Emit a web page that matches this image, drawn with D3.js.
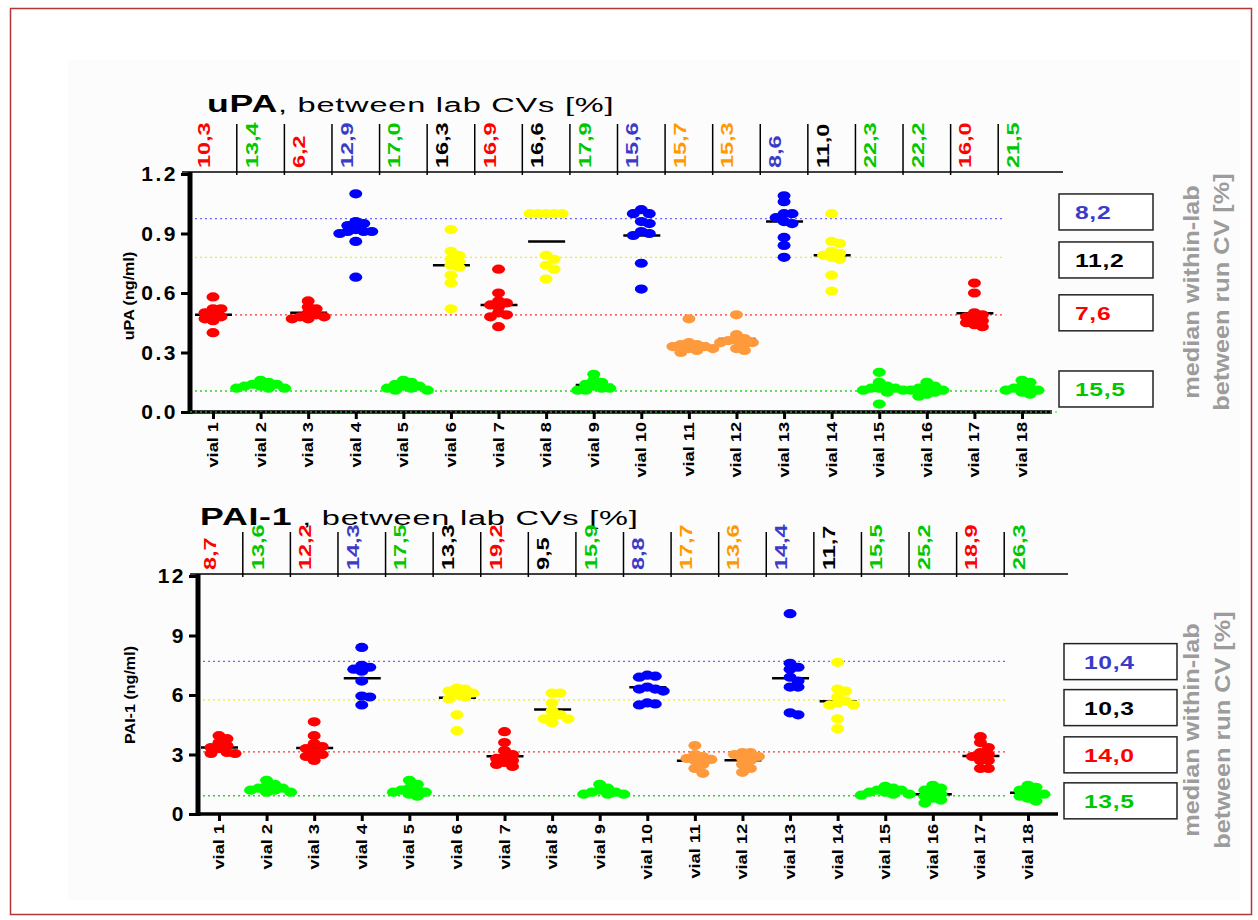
<!DOCTYPE html>
<html><head><meta charset="utf-8">
<script src="https://cdn.jsdelivr.net/npm/d3@7"></script>
<style>body{margin:0;background:#fff} text{font-family:"Liberation Sans",Arial,sans-serif}</style>
</head><body><svg id="c" width="1258" height="920"></svg>
<script>
// ---------------- data ----------------
const vials = ["vial 1","vial 2","vial 3","vial 4","vial 5","vial 6","vial 7","vial 8","vial 9","vial 10","vial 11","vial 12","vial 13","vial 14","vial 15","vial 16","vial 17","vial 18"];
const vialGroups = ["red","green","red","blue","green","yellow","red","yellow","green","blue","orange","orange","blue","yellow","green","green","red","green"];

const upaBetweenCV = ["10,3","13,4","6,2","12,9","17,0","16,3","16,9","16,6","17,9","15,6","15,7","15,3","8,6","11,0","22,3","22,2","16,0","21,5"];
const paiBetweenCV = ["8,7","13,6","12,2","14,3","17,5","13,3","19,2","9,5","15,9","8,8","17,7","13,6","14,4","11,7","15,5","25,2","18,9","26,3"];

const upaValues = [
  [0.58,0.52,0.52,0.50,0.49,0.48,0.47,0.46,0.40],
  [0.16,0.15,0.14,0.14,0.13,0.13,0.12,0.12,0.12],
  [0.56,0.53,0.52,0.50,0.49,0.48,0.48,0.47,0.47],
  [1.10,0.96,0.95,0.94,0.92,0.91,0.91,0.91,0.90,0.86,0.68],
  [0.16,0.15,0.14,0.13,0.13,0.12,0.12,0.11,0.11],
  [0.92,0.81,0.79,0.77,0.76,0.74,0.73,0.69,0.65,0.52],
  [0.72,0.60,0.56,0.55,0.54,0.53,0.50,0.49,0.48,0.43],
  [1.00,1.00,1.00,1.00,1.00,0.79,0.77,0.74,0.72,0.67],
  [0.19,0.16,0.15,0.14,0.13,0.12,0.12,0.11,0.11],
  [1.02,1.00,1.00,0.96,0.95,0.91,0.90,0.89,0.75,0.62],
  [0.47,0.35,0.34,0.34,0.33,0.33,0.32,0.32,0.31,0.30],
  [0.49,0.39,0.37,0.36,0.36,0.35,0.35,0.34,0.32,0.31],
  [1.09,1.06,1.00,1.00,0.98,0.96,0.95,0.88,0.84,0.78],
  [1.00,0.86,0.85,0.81,0.80,0.79,0.78,0.77,0.69,0.61],
  [0.20,0.15,0.13,0.12,0.12,0.12,0.11,0.11,0.10,0.04],
  [0.15,0.13,0.12,0.12,0.11,0.11,0.10,0.09,0.08],
  [0.65,0.60,0.50,0.49,0.48,0.47,0.46,0.45,0.44,0.43],
  [0.16,0.15,0.13,0.12,0.12,0.11,0.11,0.10,0.09]
];
const upaCenters = [0.49,0.14,0.50,0.91,0.13,0.74,0.54,0.86,0.136,0.89,0.343,0.368,0.96,0.79,0.12,0.111,0.498,0.111];

const paiValues = [
  [3.95,3.80,3.60,3.45,3.35,3.30,3.10,3.05,3.05],
  [1.70,1.50,1.40,1.30,1.30,1.20,1.20,1.10,1.10],
  [4.65,3.95,3.55,3.40,3.30,3.10,3.00,2.90,2.70],
  [8.40,7.50,7.40,7.30,7.20,6.70,5.95,5.90,5.50],
  [1.70,1.50,1.30,1.20,1.20,1.10,1.10,1.00,0.90],
  [6.35,6.30,6.20,6.10,6.00,5.90,5.80,5.00,4.20],
  [4.15,3.60,3.20,3.00,2.90,2.80,2.70,2.60,2.50,2.40],
  [6.10,6.10,5.60,5.20,5.00,4.90,4.80,4.80,4.60],
  [1.50,1.30,1.20,1.10,1.10,1.00,1.00,1.00],
  [7.00,6.95,6.90,6.40,6.30,6.30,6.20,5.60,5.55,5.50],
  [3.45,3.00,2.90,2.80,2.75,2.70,2.50,2.30,2.05],
  [3.10,3.10,3.00,2.90,2.80,2.70,2.50,2.30,2.10],
  [10.1,7.60,7.40,7.30,6.90,6.70,6.40,6.40,5.10,5.00],
  [7.65,6.30,6.20,5.90,5.70,5.60,5.50,5.50,4.80,4.30],
  [1.40,1.30,1.20,1.20,1.10,1.10,1.00,1.00,0.95],
  [1.45,1.30,1.20,1.10,1.00,0.90,0.80,0.70,0.55],
  [3.90,3.60,3.35,3.10,3.00,2.90,2.70,2.70,2.30,2.30],
  [1.45,1.35,1.20,1.10,1.00,1.00,0.90,0.80,0.65]
];
const paiCenters = [3.35,1.29,3.33,6.84,1.20,5.86,2.91,5.27,1.10,6.39,2.68,2.71,6.84,5.69,1.17,0.99,2.93,1.07];

const refGroups = ["blue","yellow","red","green"];
const upaRefValues = [0.975,0.78,0.49,0.106];
const upaWithinCV = ["8,2","11,2","7,6","15,5"];
const paiRefValues = [7.7,5.75,3.13,0.92];
const paiWithinCV = ["10,4","10,3","14,0","13,5"];

const upaTicks = [0,0.3,0.6,0.9,1.2];
const paiTicks = [0,3,6,9,12];

// ---------------- styling ----------------
const dotColor = {red:"#ff0000",green:"#00ff00",blue:"#0000ff",yellow:"#ffff00",orange:"#ff9a3c"};
const textColor = {red:"#ff0000",green:"#00c800",blue:"#3b3bc8",yellow:"#000000",orange:"#ff9900"};
const lineColor = {red:"#ff3030",green:"#30d030",blue:"#6a6aff",yellow:"#f0f000"};

const svg = d3.select("#c");
svg.append("rect").attr("x",10.5).attr("y",8.5).attr("width",1241).attr("height",906)
  .attr("fill","#fff").attr("stroke","#b03838").attr("stroke-width",1.5);
svg.append("rect").attr("x",68).attr("y",60).attr("width",1172).attr("height",840).attr("fill","#fcfcfc");

function panel(cfg){
  const g = svg.append("g");
  const x = d3.scalePoint().domain(vials).range(cfg.xRange);
  const y = d3.scaleLinear().domain(cfg.yDomain).range(cfg.yRange);
  const step = x.step();

  // title
  const t = g.append("text").attr("transform",`translate(${cfg.titleX},${cfg.titleY}) scale(1.55,1)`)
    .attr("font-size",21).attr("letter-spacing",0.5);
  t.append("tspan").attr("font-weight","bold").attr("font-size",23).text(cfg.title);
  t.append("tspan").text(cfg.titleRest);

  // header line and separators
  const hy = y(cfg.yDomain[1]) - 2;
  g.append("line").attr("x1",cfg.axisX-8).attr("x2",cfg.headerEnd).attr("y1",hy).attr("y2",hy)
    .attr("stroke","#000").attr("stroke-width",1.5);
  g.selectAll(".sep").data(vials.slice(1)).join("line")
    .attr("x1",d=>x(d)-step/2).attr("x2",d=>x(d)-step/2)
    .attr("y1",hy-cfg.headerH).attr("y2",hy+3).attr("stroke","#000").attr("stroke-width",1.5);
  g.selectAll(".cv").data(cfg.cv).join("text")
    .attr("transform",(d,i)=>`translate(${x(vials[i])-3},${hy-4}) rotate(-90) scale(1.38,1)`)
    .attr("font-size",17).attr("font-weight","bold")
    .attr("fill",(d,i)=>textColor[vialGroups[i]]).text(d=>d);

  // reference dotted lines
  g.selectAll(".ref").data(cfg.refValues).join("line")
    .attr("x1",cfg.axisX).attr("x2",cfg.refEnd)
    .attr("y1",d=>y(d)).attr("y2",d=>y(d))
    .attr("stroke",(d,i)=>lineColor[refGroups[i]]).attr("stroke-width",1.3)
    .attr("stroke-dasharray","2,3");

  // center bars
  g.selectAll(".bar").data(cfg.centers).join("line")
    .attr("x1",(d,i)=>x(vials[i])-18).attr("x2",(d,i)=>x(vials[i])+19)
    .attr("y1",d=>y(d)).attr("y2",d=>y(d)).attr("stroke","#000").attr("stroke-width",2.5);

  // dots (compact beeswarm layout, overlap allowed)
  const rx=6.5, ry=4.6, dx=8;
  cfg.values.forEach((vals,i)=>{
    const cx = x(vials[i]);
    const placed=[];
    vals.forEach(v=>{
      const py=y(v);
      const cand=[0]; for(let j=1;j<4;j++){cand.push(j,-j);}
      let best=cx, bestCost=Infinity;
      for(const c of cand){
        const px=cx+c*dx;
        let cost=0;
        placed.forEach(q=>{const d=((q.x-px)/(1.2*rx))**2+((q.y-py)/(1.25*ry))**2; if(d<1) cost+=1-d;});
        cost += Math.abs(c)*0.02;
        if(cost<bestCost-1e-9){bestCost=cost; best=px;}
        if(cost<=Math.abs(c)*0.02+1e-9) break;
      }
      placed.push({x:best,y:py});
    });
    g.append("g").selectAll("ellipse").data(placed).join("ellipse")
      .attr("cx",d=>d.x).attr("cy",d=>d.y).attr("rx",rx).attr("ry",ry)
      .attr("fill",dotColor[vialGroups[i]]);
  });

  // y axis
  const ya = d3.axisLeft(y).tickValues(cfg.ticks).tickFormat(cfg.fmt).tickSize(9).tickPadding(3);
  const yg = g.append("g").attr("transform",`translate(${cfg.axisX},0)`).call(ya);
  yg.select(".domain").attr("stroke-width",5).attr("d",`M0,${y(cfg.yDomain[1])-2}V${y(0)+2}`);
  yg.selectAll(".tick line").attr("stroke-width",3);
  yg.selectAll(".tick text").attr("font-size",21).attr("font-weight","bold")
    .attr("font-family","'Liberation Sans',Arial,sans-serif").attr("letter-spacing",2.5);

  // x axis
  g.append("line").attr("x1",cfg.axisX).attr("x2",cfg.xAxisEnd).attr("y1",y(0)).attr("y2",y(0))
    .attr("stroke","#000").attr("stroke-width",3.5);
  if(cfg.zeroLine) g.append("line").attr("x1",cfg.axisX).attr("x2",cfg.xAxisEnd+8).attr("y1",y(0)).attr("y2",y(0))
    .attr("stroke","#2ee02e").attr("stroke-width",1.2).attr("stroke-dasharray","2,3");
  const xa = d3.axisBottom(x).tickSize(7).tickFormat("");
  const xg = g.append("g").attr("transform",`translate(0,${y(0)})`).call(xa);
  xg.select(".domain").remove();
  xg.selectAll(".tick line").attr("stroke-width",3);
  g.selectAll(".xl").data(vials).join("text")
    .attr("transform",d=>`translate(${x(d)+5},${y(0)+10}) rotate(-90) scale(1.3,1)`)
    .attr("text-anchor","end").attr("font-size",14).attr("font-weight","bold").text(d=>d);

  // y title
  g.append("text").attr("transform",`translate(${cfg.yTitleX},${cfg.yTitleY}) rotate(-90) scale(1.15,1)`)
    .attr("text-anchor","middle").attr("font-size",14).attr("font-weight","bold").text(cfg.yTitle);

  // within-lab boxes
  const centersY = cfg.refValues.map(v=>y(v));
  for(let it=0;it<30;it++){
    for(let k=1;k<centersY.length;k++){
      const d=centersY[k]-centersY[k-1];
      if(d<cfg.boxGap){const s=(cfg.boxGap-d)/2; centersY[k-1]-=s; centersY[k]+=s;}
    }
  }
  cfg.within.forEach((w,k)=>{
    const cy=centersY[k]+cfg.boxShift;
    g.append("rect").attr("x",cfg.boxX).attr("y",cy-18).attr("width",cfg.boxW).attr("height",36)
      .attr("fill","#fff").attr("stroke","#222").attr("stroke-width",1.5);
    g.append("text").attr("transform",`translate(${cfg.boxX+cfg.boxTextDx},${cy+7}) scale(1.3,1)`)
      .attr("font-size",19).attr("font-weight","bold").attr("letter-spacing",0.5)
      .attr("fill",textColor[refGroups[k]]).text(w);
  });
  // side text
  [["median within-lab",cfg.sideX1],["between run CV [%]",cfg.sideX2]].forEach(([s,sx])=>{
    g.append("text").attr("transform",`translate(${sx},${cfg.sideY}) rotate(-90) scale(1.15,1)`)
      .attr("text-anchor","middle").attr("font-size",22).attr("font-weight","bold")
      .attr("fill","#9c9c9c").text(s);
  });
}

panel({
  title:"uPA", titleRest:", between lab CVs [%]", titleX:207, titleY:112,
  xRange:[213,1022], yDomain:[0,1.2], yRange:[412,174], axisX:190,
  headerEnd:1063, headerH:48, refEnd:1005, xAxisEnd:1052, zeroLine:true,
  cv:upaBetweenCV, refValues:upaRefValues, centers:upaCenters, values:upaValues,
  ticks:upaTicks, fmt:d3.format(".1f"),
  yTitle:"uPA (ng/ml)", yTitleX:134, yTitleY:296,
  within:upaWithinCV, boxX:1059, boxW:94, boxGap:48, boxShift:-2, boxTextDx:16,
  sideX1:1199, sideX2:1229, sideY:292
});
panel({
  title:"PAI-1", titleRest:" , between lab CVs [%]", titleX:200, titleY:525,
  xRange:[219,1028], yDomain:[0,12], yRange:[814,576], axisX:198,
  headerEnd:1068, headerH:42, refEnd:1008, xAxisEnd:1058, zeroLine:false,
  cv:paiBetweenCV, refValues:paiRefValues, centers:paiCenters, values:paiValues,
  ticks:paiTicks, fmt:d3.format("d"),
  yTitle:"PAI-1 (ng/ml)", yTitleX:135, yTitleY:695,
  within:paiWithinCV, boxX:1064, boxW:113, boxGap:46, boxShift:4, boxTextDx:20,
  sideX1:1199, sideX2:1230, sideY:730
});
</script></body></html>
